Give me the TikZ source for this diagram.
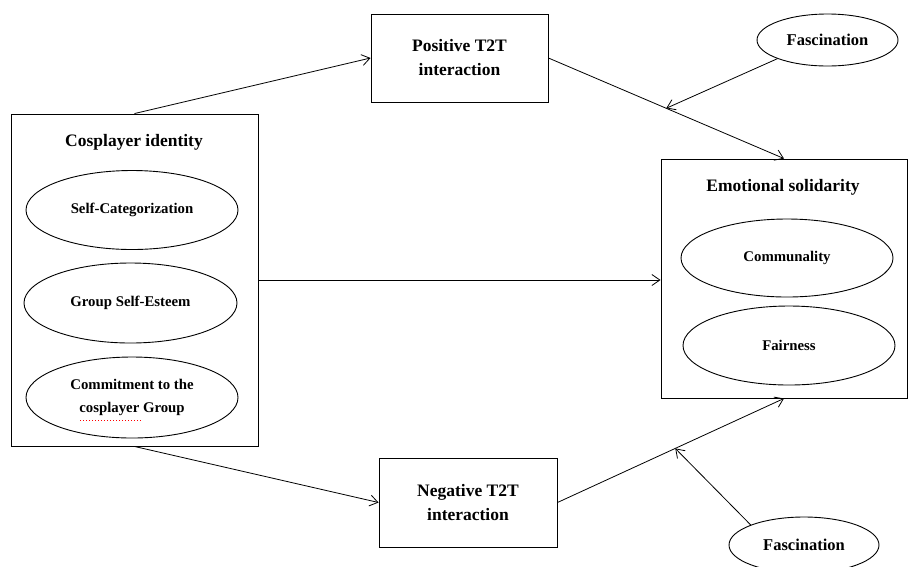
\documentclass[tikz,border=0pt]{standalone}
\usepackage{fontspec}
\setmainfont{Liberation Serif}
\usetikzlibrary{shapes.geometric,arrows.meta}
\begin{document}
\begin{tikzpicture}[x=1pt,y=-1pt,
 box/.style={draw,line width=0.9pt,inner sep=0pt},
 oval/.style={draw,ellipse,line width=0.9pt,inner sep=0pt,font=\bfseries\fontsize{14.8}{23}\selectfont,align=center},
 lbl/.style={font=\bfseries\fontsize{17.5}{24}\selectfont,align=center},
 arr/.style={line width=0.8pt,-{Straight Barb[length=8pt,width=11pt]}}]
\useasboundingbox[fill=white] (0,0) rectangle (909,566);
% boxes
\node[box,minimum width=247,minimum height=332] (ci) at (134.5,280) {};
\node[box,minimum width=246,minimum height=239] (es) at (784,278.5) {};
\node[box,minimum width=177,minimum height=88,lbl] (pos) at (459.5,58) {Positive T2T\\interaction};
\node[box,minimum width=178,minimum height=89,lbl] (neg) at (468,502.5) {Negative T2T\\interaction};
% titles
\node[lbl] (cit) at (134,142) {Cosplayer identity};
\node[lbl] (est) at (783,187) {Emotional solidarity};
% ellipses
\node[oval,minimum width=212,minimum height=79] (sc) at (132,210) {Self-Categorization};
\node[oval,minimum width=213,minimum height=80] (gse) at (130.5,303) {Group Self-Esteem};
\node[oval,minimum width=212,minimum height=81] (cg) at (132,397.5) {Commitment to the\\cosplayer Group};
\node[oval,minimum width=212,minimum height=78] (com) at (787,258) {Communality};
\node[oval,minimum width=212,minimum height=79] (fai) at (789,345.5) {Fairness};
\node[oval,minimum width=141,minimum height=52,font=\bfseries\fontsize{16.5}{20}\selectfont] (fa1) at (827.5,40) {Fascination};
\node[oval,minimum width=150,minimum height=56,font=\bfseries\fontsize{16.5}{20}\selectfont] (fa2) at (804,545) {Fascination};
\draw[red,dotted,line width=1pt] (80,420.5) -- (141,420.5);
% connectors
\draw[arr] (ci.north) -- (pos.west);
\draw[arr] (pos.east) -- coordinate[pos=0.5] (m1) (es.north);
\draw[arr] (fa1.south west) -- (m1);
\draw[arr] (ci.east) -- (ci.east -| es.west);
\draw[arr] (ci.south) -- (neg.west);
\draw[arr] (neg.east) -- coordinate[pos=0.52] (m2) (es.south);
\draw[arr] (fa2.north west) -- (m2);
\end{tikzpicture}
\end{document}
